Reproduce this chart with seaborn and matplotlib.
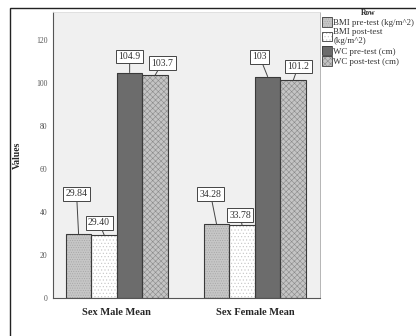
import numpy as np
import pandas as pd
import matplotlib
matplotlib.use('Agg')
import matplotlib.pyplot as plt
import seaborn as sns
from matplotlib.patches import Rectangle

# ── Data ─────────────────────────────────────────────────────
groups   = ['Sex Male Mean', 'Sex Female Mean']
series   = ['BMI pre-test (kg/m^2)', 'BMI post-test\n(kg/m^2)',
            'WC pre-test (cm)', 'WC post-test (cm)']
male     = [29.84, 29.40, 104.9, 103.7]
female   = [34.28, 33.78, 103.0, 101.2]
labels_m = ['29.84', '29.40', '104.9', '103.7']
labels_f = ['34.28', '33.78', '103', '101.2']
yticks   = [0, 20, 40, 60, 80, 100, 120]

df = pd.DataFrame({
    'group': [groups[0]] * 4 + [groups[1]] * 4,
    'row'  : series * 2,
    'value': male + female,
})

# ── Style ────────────────────────────────────────────────────
sns.set_style('white')
plt.rcParams['font.family'] = ['Liberation Serif', 'DejaVu Serif']
plt.rcParams['hatch.linewidth'] = 0.4

faces    = ['#c6c6c6', '#ffffff', '#6c6c6c', '#c4c4c4']
hatches  = ['.......', '.....', '', 'xxxxxx']
hatch_cl = ['#a4a4a4', '#c4c4c4', '#6c6c6c', '#8a8a8a']
edge     = '#3a3a3a'

fig = plt.figure(figsize=(4.16, 3.36), dpi=100)
ax = fig.add_axes([0.127, 0.113, 0.642, 0.851])
ax.set_facecolor('#f0f0f0')

sns.barplot(data=df, x='group', y='value', hue='row', hue_order=series,
            palette=faces, width=0.74, gap=0.0, saturation=1,
            edgecolor=edge, linewidth=0.8, ax=ax, legend=False)

# bar patches come in hue order: all groups of series 0, then series 1, ...
bars = [p for p in ax.patches if isinstance(p, Rectangle)][:8]
for i, p in enumerate(bars):
    s = i // 2
    # hatch drawn in its own colour, outline redrawn on top
    p.set_hatch(hatches[s])
    p.set_edgecolor(hatch_cl[s])
    p.set_linewidth(0)
    ax.add_patch(Rectangle((p.get_x(), p.get_y()), p.get_width(),
                           p.get_height(), fill=False, ec=edge, lw=0.8,
                           zorder=p.get_zorder() + 0.1))

# ── Value boxes with leader lines ────────────────────────────
offsets = {  # (series, group) -> pixel offset of label box from bar top
    (0, 0): (-2, 40), (1, 0): (-5, 12), (2, 0): (0, 16), (3, 0): (7, 12),
    (0, 1): (-6, 30), (1, 1): (-2, 10), (2, 1): (-8, 20), (3, 1): (5, 14),
}
for i, p in enumerate(bars):
    s, g = i // 2, i % 2
    txt = (labels_m if g == 0 else labels_f)[s]
    cx = p.get_x() + p.get_width() / 2
    ax.annotate(txt, xy=(cx, p.get_height()), xytext=offsets[(s, g)],
                textcoords='offset pixels', ha='center', va='center',
                fontsize=7, color='#333333', zorder=5,
                bbox=dict(boxstyle='square,pad=0.25', fc='white',
                          ec='#444444', lw=0.7),
                arrowprops=dict(arrowstyle='-', color='#444444', lw=0.7,
                                shrinkA=0, shrinkB=0))

# ── Axes ─────────────────────────────────────────────────────
ax.set_ylim(0, 133)
ax.set_xlim(-0.464, 1.471)
ax.set_yticks(yticks)
ax.set_yticklabels([str(t) for t in yticks], fontsize=5.5, color='#555555')
ax.tick_params(axis='y', length=3, width=0.6, color='#555555', pad=1)
ax.tick_params(axis='x', length=4, width=0.6, color='#333333', pad=3)
ax.set_xticks([0, 1])
ax.set_xticklabels(groups, fontsize=7.5, fontweight='bold')
ax.set_xlabel('')
ax.set_ylabel('Values', fontsize=7, fontweight='bold', labelpad=10)
for side in ['left', 'bottom']:
    ax.spines[side].set_color('#555555')
    ax.spines[side].set_linewidth(0.8)
ax.spines['top'].set_color('#dddddd')
ax.spines['right'].set_color('#aaaaaa')
ax.spines['top'].set_linewidth(0.6)
ax.spines['right'].set_linewidth(0.6)

# ── Legend ───────────────────────────────────────────────────
handles = [(Rectangle((0, 0), 1, 1, fc=faces[s], ec=hatch_cl[s], lw=0,
                      hatch=hatches[s]),
            Rectangle((0, 0), 1, 1, fill=False, ec=edge, lw=0.6))
           for s in range(4)]
leg = fig.legend(handles, series, title='Row', loc='upper left',
                 bbox_to_anchor=(0.765, 0.985), frameon=False,
                 fontsize=6.4, title_fontsize=5.5, handlelength=1.1,
                 handleheight=1.2, handletextpad=0.2, labelspacing=0.1,
                 borderaxespad=0, alignment='center')
leg.get_title().set_fontweight('bold')
for t in leg.get_texts():
    t.set_color('#333333')

# outer frame
fig.patches.append(Rectangle((10 / 416, -0.05), 1.1, 1.05 - 8 / 336,
                             transform=fig.transFigure, fill=False,
                             ec='#222222', lw=1.0))

fig.savefig('out.png', dpi=100)
